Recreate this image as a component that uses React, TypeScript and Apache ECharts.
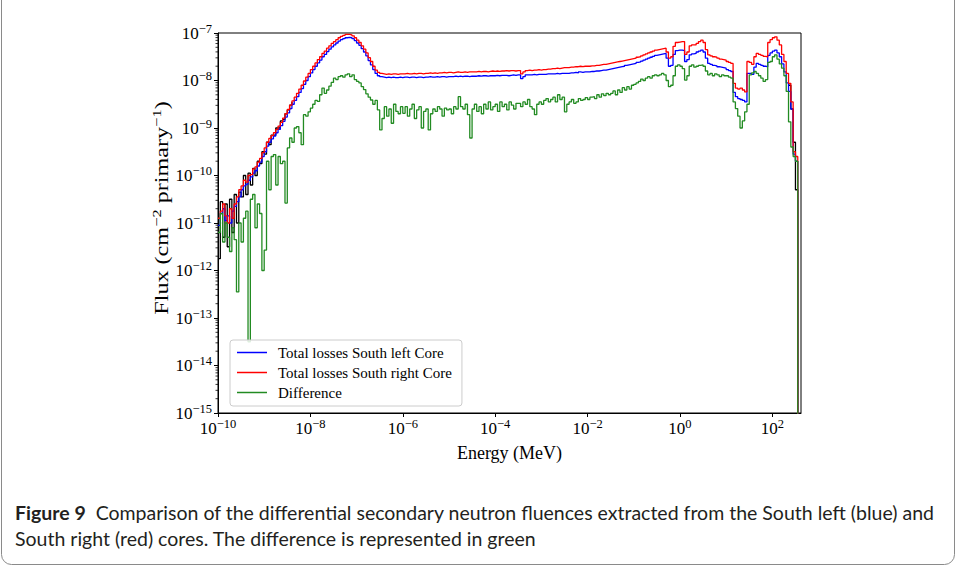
import React, { useEffect, useRef } from "react";
import * as echarts from "echarts";

// log10 of energy (MeV) at the start of each histogram bin
const energyExp = [
  -10.0, -9.95, -9.9, -9.85, -9.8, -9.75, -9.7, -9.65, -9.6, -9.55,
  -9.5, -9.45, -9.4, -9.35, -9.3, -9.25, -9.2, -9.15, -9.1, -9.05,
  -9.0, -8.95, -8.9, -8.85, -8.8, -8.75, -8.7, -8.65, -8.6, -8.55,
  -8.5, -8.45, -8.4, -8.35, -8.3, -8.25, -8.2, -8.15, -8.1, -8.05,
  -8.0, -7.95, -7.9, -7.85, -7.8, -7.75, -7.7, -7.65, -7.6, -7.55,
  -7.5, -7.45, -7.4, -7.35, -7.3, -7.25, -7.2, -7.15, -7.1, -7.05,
  -7.0, -6.95, -6.9, -6.85, -6.8, -6.75, -6.7, -6.65, -6.6, -6.55,
  -6.5, -6.45, -6.4, -6.35, -6.3, -6.25, -6.2, -6.15, -6.1, -6.05,
  -6.0, -5.95, -5.9, -5.85, -5.8, -5.75, -5.7, -5.65, -5.6, -5.55,
  -5.5, -5.45, -5.4, -5.35, -5.3, -5.25, -5.2, -5.15, -5.1, -5.05,
  -5.0, -4.95, -4.9, -4.85, -4.8, -4.75, -4.7, -4.65, -4.6, -4.55,
  -4.5, -4.45, -4.4, -4.35, -4.3, -4.25, -4.2, -4.15, -4.1, -4.05,
  -4.0, -3.95, -3.9, -3.85, -3.8, -3.75, -3.7, -3.65, -3.6, -3.55,
  -3.5, -3.45, -3.4, -3.35, -3.3, -3.25, -3.2, -3.15, -3.1, -3.05,
  -3.0, -2.95, -2.9, -2.85, -2.8, -2.75, -2.7, -2.65, -2.6, -2.55,
  -2.5, -2.45, -2.4, -2.35, -2.3, -2.25, -2.2, -2.15, -2.1, -2.05,
  -2.0, -1.95, -1.9, -1.85, -1.8, -1.75, -1.7, -1.65, -1.6, -1.55,
  -1.5, -1.45, -1.4, -1.35, -1.3, -1.25, -1.2, -1.15, -1.1, -1.05,
  -1.0, -0.95, -0.9, -0.85, -0.8, -0.75, -0.7, -0.65, -0.6, -0.55,
  -0.5, -0.45, -0.4, -0.35, -0.3, -0.25, -0.2, -0.15, -0.1, -0.05,
  0.0, 0.05, 0.1, 0.15, 0.2, 0.25, 0.3, 0.35, 0.4, 0.45,
  0.5, 0.55, 0.6, 0.65, 0.7, 0.75, 0.8, 0.85, 0.9, 0.95,
  1.0, 1.05, 1.1, 1.15, 1.2, 1.25, 1.3, 1.35, 1.4, 1.45,
  1.5, 1.55, 1.6, 1.65, 1.7, 1.75, 1.8, 1.85, 1.9, 1.95,
  2.0, 2.05, 2.1, 2.15, 2.2, 2.25, 2.3, 2.35, 2.4, 2.45,
  2.5, 2.55,
];

// log10 of flux, Total losses South left Core (blue)
const southLeft = [
  -11.05, -10.8, -10.7, -10.95, -10.85, -11.0, -10.75, -10.65, -10.55, -10.45,
  -10.3, -10.22, -10.18, -10.1, -10.03, -9.95, -9.9, -9.8, -9.72, -9.6,
  -9.5, -9.38, -9.3, -9.23, -9.17, -9.1, -9.03, -8.95, -8.86, -8.77,
  -8.68, -8.59, -8.5, -8.42, -8.34, -8.25, -8.17, -8.08, -8.0, -7.92,
  -7.84, -7.77, -7.7, -7.63, -7.57, -7.5, -7.45, -7.39, -7.34, -7.29,
  -7.25, -7.21, -7.17, -7.14, -7.12, -7.1, -7.09, -7.1, -7.12, -7.16,
  -7.21, -7.26, -7.33, -7.4, -7.48, -7.58, -7.67, -7.77, -7.85, -7.9,
  -7.92, -7.93, -7.94, -7.93, -7.94, -7.93, -7.94, -7.94, -7.93, -7.94,
  -7.93, -7.93, -7.94, -7.93, -7.93, -7.94, -7.93, -7.93, -7.94, -7.93,
  -7.93, -7.92, -7.93, -7.93, -7.92, -7.93, -7.92, -7.92, -7.93, -7.92,
  -7.92, -7.92, -7.91, -7.92, -7.91, -7.92, -7.91, -7.91, -7.92, -7.91,
  -7.91, -7.91, -7.9, -7.91, -7.9, -7.9, -7.91, -7.9, -7.9, -7.9,
  -7.89, -7.9, -7.89, -7.89, -7.89, -7.9, -7.89, -7.88, -7.89, -7.88,
  -7.88, -7.96, -7.92, -7.88, -7.88, -7.88, -7.87, -7.88, -7.87, -7.87,
  -7.87, -7.87, -7.86, -7.86, -7.86, -7.86, -7.85, -7.86, -7.85, -7.85,
  -7.85, -7.85, -7.84, -7.84, -7.83, -7.84, -7.82, -7.83, -7.82, -7.82,
  -7.82, -7.81, -7.81, -7.8, -7.8, -7.79, -7.78, -7.78, -7.77, -7.76,
  -7.75, -7.74, -7.73, -7.72, -7.71, -7.7, -7.68, -7.67, -7.66, -7.65,
  -7.64, -7.62, -7.61, -7.59, -7.57, -7.55, -7.53, -7.51, -7.49, -7.47,
  -7.46, -7.45, -7.44, -7.43, -7.53, -7.7, -7.68, -7.45, -7.37, -7.36,
  -7.36, -7.37, -7.6, -7.56, -7.46, -7.44, -7.43, -7.4, -7.38, -7.36,
  -7.4, -7.53, -7.64, -7.66, -7.68, -7.69, -7.71, -7.72, -7.73, -7.74,
  -7.77, -7.79, -7.81, -8.25, -8.34, -8.38, -8.4, -8.42, -8.45, -7.85,
  -7.85, -7.87, -7.72, -7.64, -7.66, -7.68, -7.7, -7.71, -7.47, -7.42,
  -7.38, -7.36, -7.42, -7.5, -7.65, -7.82, -8.05, -8.23, -8.6, -9.55,
  -9.7, -16,
];

// log10 of flux, Total losses South right Core (red)
const southRight = [
  -10.9, -10.75, -10.6, -10.85, -11.0, -10.7, -10.9, -10.6, -10.45, -10.3,
  -10.22, -10.1, -10.14, -10.0, -9.98, -9.86, -9.82, -9.72, -9.64, -9.52,
  -9.42, -9.3, -9.22, -9.16, -9.1, -9.03, -8.96, -8.88, -8.79, -8.7,
  -8.61, -8.52, -8.43, -8.35, -8.27, -8.18, -8.1, -8.01, -7.93, -7.85,
  -7.77, -7.7, -7.63, -7.56, -7.5, -7.43, -7.38, -7.32, -7.27, -7.22,
  -7.18, -7.14, -7.1, -7.07, -7.05, -7.03, -7.03, -7.04, -7.06, -7.1,
  -7.15, -7.2, -7.27, -7.34, -7.42, -7.52, -7.6, -7.7, -7.78, -7.83,
  -7.85, -7.86, -7.87, -7.86, -7.87, -7.86, -7.86, -7.87, -7.86, -7.86,
  -7.86, -7.85, -7.86, -7.86, -7.85, -7.86, -7.85, -7.85, -7.86, -7.85,
  -7.85, -7.84, -7.85, -7.84, -7.85, -7.84, -7.84, -7.83, -7.84, -7.83,
  -7.83, -7.84, -7.83, -7.82, -7.83, -7.83, -7.82, -7.83, -7.82, -7.82,
  -7.82, -7.82, -7.81, -7.82, -7.81, -7.81, -7.82, -7.81, -7.8, -7.81,
  -7.8, -7.81, -7.8, -7.8, -7.79, -7.8, -7.79, -7.79, -7.8, -7.79,
  -7.79, -7.86, -7.82, -7.79, -7.78, -7.79, -7.78, -7.78, -7.77, -7.78,
  -7.77, -7.77, -7.76, -7.76, -7.75, -7.75, -7.74, -7.75, -7.74, -7.73,
  -7.73, -7.73, -7.72, -7.72, -7.71, -7.71, -7.7, -7.71, -7.7, -7.7,
  -7.7, -7.69, -7.69, -7.68, -7.68, -7.67, -7.66, -7.66, -7.65, -7.64,
  -7.63, -7.62, -7.61, -7.6, -7.59, -7.58, -7.57, -7.56, -7.55, -7.54,
  -7.53, -7.51, -7.5, -7.48, -7.46, -7.44, -7.42, -7.4, -7.38, -7.36,
  -7.35, -7.34, -7.33, -7.32, -7.4, -7.53, -7.5, -7.28, -7.2, -7.19,
  -7.18, -7.18, -7.45, -7.4, -7.27, -7.25, -7.25, -7.22, -7.18, -7.15,
  -7.2, -7.35, -7.46, -7.48, -7.5, -7.51, -7.53, -7.55, -7.56, -7.57,
  -7.6, -7.62, -7.64, -8.06, -8.16, -8.18, -8.16, -8.2, -8.24, -7.6,
  -7.62, -7.66, -7.5, -7.43, -7.45, -7.47, -7.49, -7.5, -7.2, -7.14,
  -7.1, -7.08, -7.15, -7.25, -7.45, -7.6, -7.85, -8.06, -8.45, -9.5,
  -9.6, -16,
];

// log10 of flux, Difference (green)
const difference = [
  -11.2, -10.8, -11.4, -11.0, -11.3, -11.6, -11.1, -11.35, -12.45, -11.0,
  -11.4, -10.9, -10.75, -13.5, -10.5, -10.4, -11.1, -10.6, -10.8, -12.0,
  -11.57, -9.7, -10.3, -9.6, -9.56, -10.2, -9.6, -9.75, -9.7, -10.58,
  -9.42, -9.21, -9.3, -9.0, -8.97, -9.1, -9.35, -8.72, -8.75, -8.66,
  -8.58, -8.5, -8.42, -8.44, -8.3, -8.16, -8.27, -8.2, -8.12, -8.04,
  -7.95, -7.98, -7.92, -7.9, -7.93, -7.88, -7.86, -7.92, -7.88, -7.98,
  -8.02, -8.05, -8.13, -8.19, -8.28, -8.35, -8.41, -8.5, -8.42, -8.62,
  -9.04, -8.8, -8.55, -8.75, -8.6, -8.9, -8.5, -8.65, -8.7, -8.55,
  -8.69, -8.55, -8.75, -8.6, -8.5, -8.8, -8.62, -8.55, -9.0, -8.65,
  -8.6, -9.04, -8.7, -8.6, -8.65, -8.55, -8.6, -8.75, -8.58, -8.62,
  -8.6, -8.7, -8.55, -8.6, -8.34, -8.55, -8.6, -8.5, -8.72, -9.21,
  -8.6, -8.5, -8.65, -8.55, -8.7, -8.5, -8.6, -8.45, -8.62, -8.55,
  -8.5, -8.65, -8.45, -8.55, -8.5, -8.62, -8.45, -8.52, -8.6, -8.48,
  -8.48, -8.55, -8.45, -8.5, -8.4, -8.55, -8.6, -8.72, -8.5, -8.45,
  -8.5, -8.42, -8.38, -8.45, -8.4, -8.35, -8.45, -8.3, -8.4, -8.35,
  -8.66, -8.5, -8.45, -8.4, -8.48, -8.45, -8.38, -8.42, -8.4, -8.36,
  -8.4, -8.35, -8.34, -8.38, -8.3, -8.35, -8.28, -8.32, -8.27, -8.3,
  -8.27, -8.22, -8.3, -8.2, -8.25, -8.15, -8.2, -8.13, -8.18, -8.1,
  -8.08, -8.05, -8.02, -7.97, -8.0, -7.95, -7.92, -7.95, -7.9, -7.88,
  -7.9, -7.88, -7.85, -7.88, -8.0, -8.13, -8.1, -7.9, -7.7, -7.67,
  -7.7, -7.75, -7.99, -7.9, -7.7, -7.67, -7.72, -7.7, -7.68, -7.67,
  -7.7, -7.8, -7.88, -7.85, -7.9, -7.86, -7.88, -7.92, -7.88, -7.9,
  -7.9, -7.93, -7.95, -8.45, -8.59, -8.75, -9.0, -8.85, -8.66, -8.5,
  -7.88, -7.84, -7.81, -7.85, -7.9, -7.95, -8.02, -7.98, -7.62, -7.6,
  -7.5, -7.46, -7.55, -7.65, -7.74, -7.9, -8.23, -8.87, -9.4, -9.6,
  -9.7, -16,
];

// unlabelled black trace visible under the noisy low-energy part and at the cut-off
const blackLowExp = [
  -10.0, -9.95, -9.9, -9.85, -9.8, -9.75, -9.7, -9.65, -9.6, -9.55,
  -9.5, -9.45, -9.4, -9.35, -9.3, -9.25, -9.2, -9.15, -9.1, -9.05,
  -9.0, -8.95, -8.9, -8.85, -8.8, -8.75, -8.7, -8.65, -8.6, -8.55,
  -8.5, -8.45, -8.4,
];
const blackLow = [
  -11.75, -10.55, -11.3, -10.6, -11.5, -10.5, -11.2, -10.4, -11.0, -10.35,
  -10.45, -10.0, -10.4, -9.95, -10.2, -9.85, -10.0, -9.7, -9.75, -9.5,
  -9.55, -9.3, -9.35, -9.15, -9.15, -9.0, -9.0, -8.85, -8.82, -8.7,
  -8.62, -8.52, -8.45,
];
const blackHighExp = [2.35, 2.4, 2.45, 2.5, 2.55];
const blackHigh = [-8.1, -8.6, -9.3, -10.3, -16];

const xTickExps = [-10, -8, -6, -4, -2, 0, 2];
const yTickExps = [-15, -14, -13, -12, -11, -10, -9, -8, -7];
const minorFactors = [2, 3, 4, 5, 6, 7, 8, 9];

const seriesNames = [
  "Total losses South left Core",
  "Total losses South right Core",
  "Difference",
];

const SERIF = "'Liberation Serif', 'Times New Roman', serif";
const SANS = "Lato, 'Noto Sans', sans-serif";

function powLabel(v: number) {
  const n = Math.round(v);
  return `{b|10}{s|${n < 0 ? "\u2212" : ""}${Math.abs(n)}}`;
}

const labelRich = {
  b: { fontFamily: SERIF, fontSize: 17, lineHeight: 22, color: "#000" },
  s: { fontFamily: SERIF, fontSize: 12.5, lineHeight: 12, verticalAlign: "top", color: "#000" },
};

export default function App() {
  const ref = useRef<HTMLDivElement>(null);

  useEffect(() => {
    if (!ref.current) return;
    const chart = echarts.init(ref.current, null, { renderer: "svg" });

    const pairs = (xs: number[], ys: number[]) => xs.map((x, i) => [x, ys[i]]);

    const minorData: number[][] = [];
    yTickExps.slice(0, -1).forEach((d) => {
      minorFactors.forEach((k) => minorData.push([xTickExps[0], d + Math.log10(k)]));
    });

    const lineBase = {
      type: "line",
      step: "end",
      symbol: "none",
      showSymbol: false,
      clip: true,
      silent: true,
    };

    chart.setOption({
      animation: false,
      backgroundColor: "#fff",
      grid: {
        left: 218,
        right: 155,
        top: 33,
        bottom: 153,
        show: true,
        borderColor: "#000",
        borderWidth: 1,
        backgroundColor: "transparent",
      },
      legend: {
        data: seriesNames,
        orient: "vertical",
        left: 230,
        top: 340,
        icon: "rect",
        itemWidth: 30,
        itemHeight: 1.5,
        itemGap: 5,
        padding: [5, 10, 6, 7],
        backgroundColor: "rgba(255,255,255,0.85)",
        borderColor: "#cccccc",
        borderWidth: 1,
        borderRadius: 3,
        textStyle: { fontFamily: SERIF, fontSize: 15, lineHeight: 15, color: "#000", padding: [0, 0, 0, 6] },
      },
      xAxis: {
        type: "value",
        min: -10,
        max: 2.62,
        name: "Energy (MeV)",
        nameLocation: "middle",
        nameGap: 31,
        nameTextStyle: { fontFamily: SERIF, fontSize: 18, color: "#000" },
        axisLine: { onZero: false, lineStyle: { color: "#000", width: 1 } },
        axisTick: { show: true, inside: false, length: 4, customValues: xTickExps, lineStyle: { color: "#000" } },
        axisLabel: {
          customValues: xTickExps,
          margin: 4,
          formatter: (v: number) => powLabel(v),
          rich: labelRich,
        },
        splitLine: { show: false },
      },
      yAxis: {
        type: "value",
        min: -15,
        max: -7,
        axisLine: { onZero: false, lineStyle: { color: "#000", width: 1 } },
        axisTick: { show: true, inside: false, length: 4, customValues: yTickExps, lineStyle: { color: "#000" } },
        axisLabel: {
          customValues: yTickExps,
          margin: 6,
          formatter: (v: number) => powLabel(v),
          rich: labelRich,
        },
        splitLine: { show: false },
      },
      graphic: [
        {
          type: "rect",
          silent: true,
          shape: { x: 1.5, y: -20, width: 953, height: 584.5, r: 10 },
          style: { fill: "none", stroke: "#8a8a8a", lineWidth: 1 },
        },
        {
          type: "text",
          silent: true,
          x: 162,
          y: 208,
          rotation: Math.PI / 2,
          scaleX: 1.27,
          style: {
            text: "Flux (cm{s|\u22122} primary{s|\u22121})",
            fontFamily: SERIF,
            fontSize: 19,
            lineHeight: 24,
            fill: "#000",
            align: "center",
            verticalAlign: "middle",
            rich: { s: { fontFamily: SERIF, fontSize: 13, lineHeight: 12, verticalAlign: "top", fill: "#000" } },
          },
        },
        {
          type: "text",
          silent: true,
          left: 15,
          top: 499,
          style: {
            text:
              "{t|Figure 9}  Comparison of the differential secondary neutron fluences extracted from the South left (blue) and\nSouth right (red) cores. The difference is represented in green",
            fontFamily: SANS,
            fontSize: 19.5,
            lineHeight: 26,
            fill: "#231f20",
            rich: {
              t: { fontFamily: SANS, fontSize: 19.5, lineHeight: 26, fontWeight: "bold", fill: "#231f20" },
            },
          },
        },
      ],
      series: [
        {
          type: "custom",
          silent: true,
          clip: false,
          data: minorData,
          renderItem: (_p: any, api: any) => {
            const pt = api.coord([api.value(0), api.value(1)]);
            return {
              type: "line",
              shape: { x1: pt[0] - 2.5, y1: pt[1], x2: pt[0], y2: pt[1] },
              style: { stroke: "#000", lineWidth: 0.8 },
            };
          },
          z: 3,
        },
        { ...lineBase, name: "black-low", data: pairs(blackLowExp, blackLow), lineStyle: { color: "#000", width: 1.3 }, itemStyle: { color: "#000" } },
        { ...lineBase, name: "black-high", data: pairs(blackHighExp, blackHigh), lineStyle: { color: "#000", width: 1.3 }, itemStyle: { color: "#000" } },
        { ...lineBase, name: seriesNames[0], data: pairs(energyExp, southLeft), lineStyle: { color: "#0000ff", width: 1.3 }, itemStyle: { color: "#0000ff" } },
        { ...lineBase, name: seriesNames[1], data: pairs(energyExp, southRight), lineStyle: { color: "#ff0000", width: 1.3 }, itemStyle: { color: "#ff0000" } },
        { ...lineBase, name: seriesNames[2], data: pairs(energyExp, difference), lineStyle: { color: "#228b22", width: 1.3 }, itemStyle: { color: "#228b22" } },
      ],
    });

    return () => chart.dispose();
  }, []);

  return (
    <div
      ref={ref}
      style={{ position: "absolute", left: 0, top: 0, width: 956, height: 566, background: "#fff" }}
    />
  );
}
